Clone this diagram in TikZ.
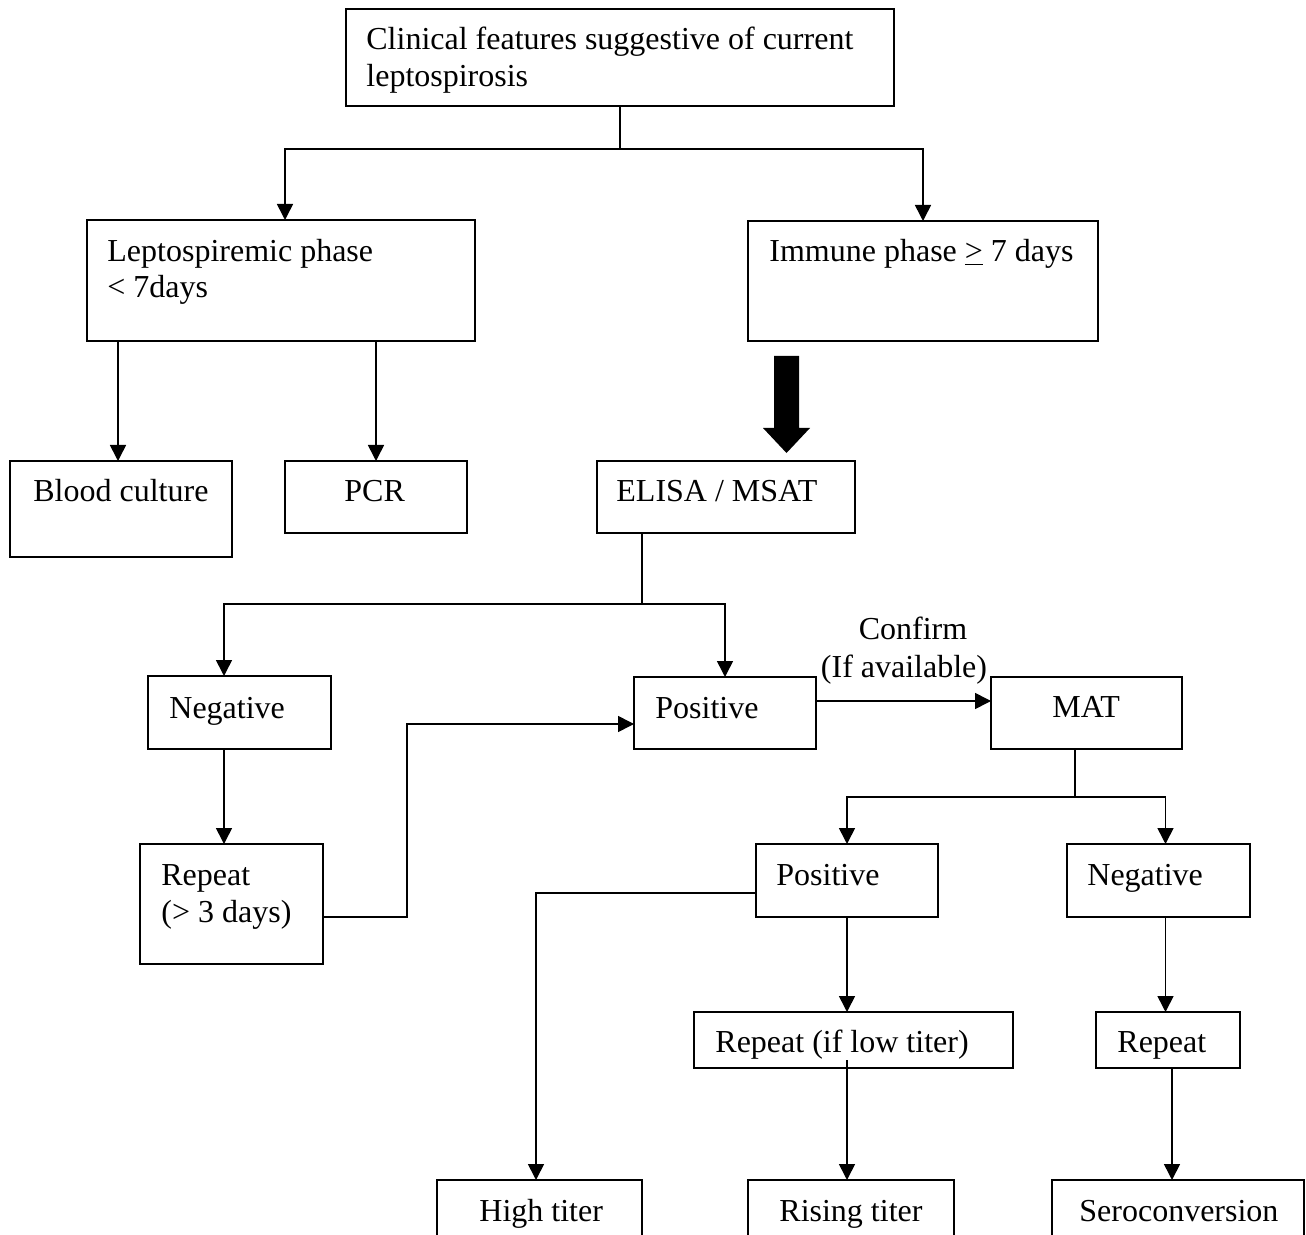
\documentclass[tikz,border=0pt]{standalone}
\usepackage{fontspec}
\setmainfont{Liberation Serif}
\usetikzlibrary{arrows.meta}
\tikzset{
  boxst/.style={draw, line width=1pt, rectangle, inner sep=0pt, outer sep=0pt},
  txt/.style={inner sep=0pt, anchor=base west, font=\fontsize{16}{18}\selectfont},
  ln/.style={line width=0.8pt},
  arr/.style={line width=0.8pt, -{Triangle[length=8pt,width=8pt]}},
}
\newcommand\mkbox[5]{\node[boxst, minimum width={(#4-#2)*0.5pt}, minimum height={(#5-#3)*0.5pt}] (#1) at ({(#2+#4)/2},{(#3+#5)/2}) {};}
\begin{document}
\begin{tikzpicture}[x=0.5pt,y=-0.5pt]
\useasboundingbox (0,0) rectangle (1306,1235);
\clip (0,0) rectangle (1306,1235);
\fill[white] (0,0) rectangle (1306,1235);
% boxes
\mkbox{top}{346}{9}{894}{106}
\mkbox{lep}{87}{220}{475}{341}
\mkbox{imm}{748}{221}{1098}{341}
\mkbox{blood}{10}{461}{232}{557}
\mkbox{pcr}{285}{461}{467}{533}
\mkbox{elisa}{597}{461}{855}{533}
\mkbox{neg1}{148}{676}{331}{749}
\mkbox{pos1}{634}{677}{816}{749}
\mkbox{mat}{991}{677}{1182}{749}
\mkbox{rep1}{140}{844}{323}{964}
\mkbox{pos2}{756}{844}{938}{917}
\mkbox{neg2}{1067}{844}{1250}{917}
\mkbox{rep2}{694}{1012}{1013}{1068}
\mkbox{rep3}{1096}{1012}{1240}{1068}
\mkbox{high}{437}{1180}{642}{1300}
\mkbox{rising}{748}{1180}{954}{1300}
\mkbox{sero}{1052}{1180}{1304}{1300}
% texts
\node[txt] (ttop1) at (366,50) {Clinical features suggestive of current};
\node[txt] (ttop2) at (366,87) {leptospirosis};
\node[txt] (tlep1) at (107,262) {Leptospiremic phase};
\node[txt] (tlep2) at (107,298) {< 7days};
\node[txt] (timm) at (769,262) {Immune phase \underline{>} 7 days};
\node[txt] (tblood) at (33,501) {Blood culture};
\node[txt] (tpcr) at (344,501) {PCR};
\node[txt] (telisa) at (616,501) {ELISA / MSAT};
\node[txt] (tneg1) at (169,718) {Negative};
\node[txt] (tpos1) at (655,718) {Positive};
\node[txt] (tmat) at (1052,717) {MAT};
\node[txt] (trep1a) at (161,885) {Repeat};
\node[txt] (trep1b) at (161,922) {(> 3 days)};
\node[txt] (tpos2) at (776,885) {Positive};
\node[txt] (tneg2) at (1087,885) {Negative};
\node[txt] (trep2) at (715,1052) {Repeat (if low titer)};
\node[txt] (trep3) at (1117,1052) {Repeat};
\node[txt] (thigh) at (479,1221) {High titer};
\node[txt] (trising) at (779,1221) {Rising titer};
\node[txt] (tsero) at (1079,1221) {Seroconversion};
\node[txt, anchor=base] (conf1) at (913,639) {Confirm};
\node[txt, anchor=base] (conf2) at (904,677) {(If available)};
% connectors
\coordinate (b1) at (620,149);
\draw[ln] (top.south) -- (b1);
\draw[arr] (b1) -| ([xshift=2pt]lep.north);
\draw[arr] (b1) -| (imm.north);
\draw[arr] ([xshift=-1.5pt]blood.north |- lep.south) -- ([xshift=-1.5pt]blood.north);
\draw[arr] (pcr.north |- lep.south) -- (pcr.north);
\fill (774,356) -- (799,356) -- (799,428) -- (810,428) -- (786.5,453) -- (763,428) -- (774,428) -- cycle;
\coordinate (e1) at (642,604);
\draw[ln] (elisa.south -| e1) -- (e1);
\draw[arr] (e1) -| ([xshift=-7.75pt]neg1.north);
\draw[arr] (e1) -| (pos1.north);
\draw[arr] ([xshift=-7.75pt]neg1.south) -- ([xshift=-7.75pt]neg1.south |- rep1.north);
\draw[arr] ([yshift=-6.5pt]rep1.east) -- ++(84,0) |- ([yshift=-5.5pt]pos1.west);
\draw[arr] ([yshift=6pt]pos1.east) -- ([yshift=6pt]mat.west);
\coordinate (m1) at (1075,797);
\draw[ln] (mat.south -| m1) -- (m1);
\draw[arr] (m1) -| (pos2.north);
\draw[arr] (m1) -| ([xshift=3.5pt]neg2.north);
\draw[arr] ([yshift=-6.25pt]pos2.west) -| ([xshift=-1.75pt]high.north);
\draw[arr] (pos2.south) -- (pos2.south |- rep2.north);
\draw[arr] ([yshift=4pt]rep2.south -| pos2.south) -- (pos2.south |- rising.north);
\draw[arr] ([xshift=3.5pt]neg2.south) -- ([xshift=3.5pt]neg2.south |- rep3.north);
\draw[arr] ([xshift=2pt]rep3.south) -- ([xshift=2pt]rep3.south |- sero.north);
\end{tikzpicture}
\end{document}
